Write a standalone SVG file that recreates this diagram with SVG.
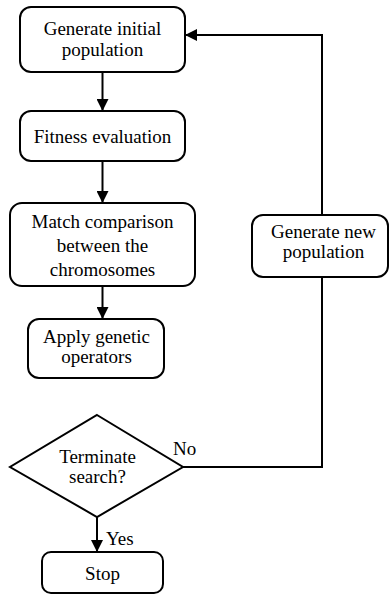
<svg xmlns="http://www.w3.org/2000/svg" width="389" height="594" viewBox="0 0 389 594">
<style>
.box{fill:#fff;stroke:#000;stroke-width:2}
.t{font-size:19px;fill:#000;text-anchor:middle}
.l{font-size:19px;fill:#000}
.c{fill:none;stroke:#000;stroke-width:2}
</style>
<defs>
<marker id="ah" markerWidth="12" markerHeight="12" refX="12" refY="6" orient="auto" markerUnits="userSpaceOnUse">
<path d="M0,0 L12,6 L0,12 Z" fill="#000"/>
</marker>
</defs>
<rect width="389" height="594" fill="#fff"/>
<g font-family="Liberation Serif, Times New Roman, Times, serif">
<g id="connectors">
<line class="c" x1="102.5" y1="72" x2="102.5" y2="111" marker-end="url(#ah)"/>
<line class="c" x1="102.5" y1="161" x2="102.5" y2="203" marker-end="url(#ah)"/>
<line class="c" x1="102.5" y1="286" x2="102.5" y2="319" marker-end="url(#ah)"/>
<line class="c" x1="97" y1="517" x2="97" y2="552" marker-end="url(#ah)"/>
<polyline class="c" points="183,467 322,467 322,277"/>
<polyline class="c" points="322,215 322,35 185,35" marker-end="url(#ah)"/>
<text class="l" x="173" y="455">No</text>
<text class="l" x="106" y="545">Yes</text>
</g>
<g id="generate-initial">
<rect class="box" x="20" y="7" width="165" height="65" rx="11"/>
<text class="t" x="102.5" y="35">Generate initial</text>
<text class="t" x="102.5" y="56">population</text>
</g>
<g id="fitness">
<rect class="box" x="20" y="111" width="165" height="50" rx="11"/>
<text class="t" x="102.5" y="143">Fitness evaluation</text>
</g>
<g id="match">
<rect class="box" x="10" y="203" width="185" height="83" rx="12"/>
<text class="t" x="102.5" y="228">Match comparison</text>
<text class="t" x="102.5" y="252">between the</text>
<text class="t" x="102.5" y="276">chromosomes</text>
</g>
<g id="apply">
<rect class="box" x="28" y="319" width="136" height="59" rx="11"/>
<text class="t" x="96.5" y="343">Apply genetic</text>
<text class="t" x="96.5" y="363">operators</text>
</g>
<g id="terminate">
<polygon class="box" points="97,415 183,467 97,517 10,467"/>
<text class="t" x="97.5" y="463">Terminate</text>
<text class="t" x="97.5" y="483">search?</text>
</g>
<g id="stop">
<rect class="box" x="42" y="552" width="121" height="41" rx="9"/>
<text class="t" x="102.5" y="580">Stop</text>
</g>
<g id="generate-new">
<rect class="box" x="252" y="215" width="136" height="62" rx="11"/>
<text class="t" x="323.5" y="238">Generate new</text>
<text class="t" x="323.5" y="258">population</text>
</g>
</g>
</svg>
